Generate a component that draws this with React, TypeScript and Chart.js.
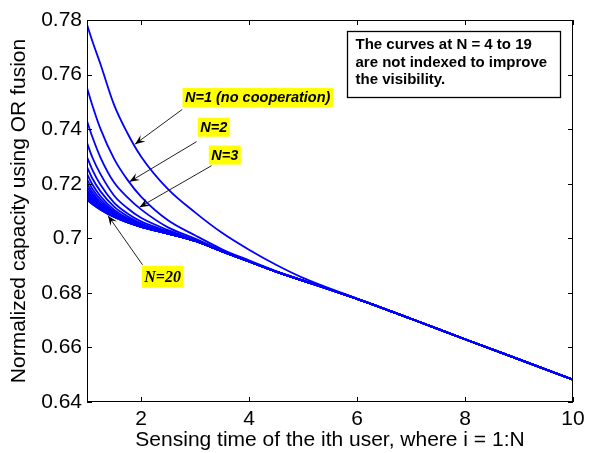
import React, { useEffect, useRef } from 'react';
import { Chart, registerables } from 'chart.js';

Chart.register(...registerables);

// ---- data ----
const xValues = [1, 1.1, 1.25, 1.5, 1.75, 2, 2.5, 3, 3.5, 4, 4.5, 5, 6, 7, 8, 9, 10];

const seriesN1 = [0.7783, 0.7722, 0.7638, 0.749, 0.7385, 0.73, 0.718, 0.7095, 0.702, 0.6958, 0.6903, 0.6855, 0.6779, 0.6705, 0.663, 0.6556, 0.6482];
const seriesN2 = [0.7552, 0.7487, 0.7401, 0.7292, 0.7214, 0.7153, 0.7066, 0.7011, 0.696, 0.6919, 0.688, 0.6846, 0.6778, 0.6705, 0.663, 0.6556, 0.6482];
const seriesN3 = [0.743, 0.7371, 0.7296, 0.7205, 0.715, 0.7106, 0.704, 0.6999, 0.6955, 0.6916, 0.6878, 0.6845, 0.6778, 0.6705, 0.663, 0.6556, 0.6482];
const seriesN4 = [0.735, 0.7296, 0.7235, 0.7157, 0.711, 0.7075, 0.703, 0.6994, 0.6953, 0.6915, 0.6878, 0.6845, 0.6778, 0.6705, 0.663, 0.6556, 0.6482];
const seriesN5 = [0.7298, 0.7251, 0.7196, 0.7131, 0.7091, 0.7062, 0.7025, 0.6992, 0.6952, 0.6915, 0.6878, 0.6845, 0.6778, 0.6705, 0.663, 0.6556, 0.6482];
const seriesN6 = [0.7262, 0.7219, 0.7172, 0.7116, 0.7081, 0.7055, 0.7022, 0.6991, 0.6952, 0.6915, 0.6878, 0.6845, 0.6778, 0.6705, 0.663, 0.6556, 0.6482];
const seriesN7 = [0.7236, 0.7197, 0.7154, 0.7105, 0.7074, 0.7052, 0.702, 0.6991, 0.6952, 0.6915, 0.6878, 0.6845, 0.6778, 0.6705, 0.663, 0.6556, 0.6482];
const seriesN8 = [0.7216, 0.7181, 0.7143, 0.7098, 0.707, 0.7049, 0.7019, 0.699, 0.6952, 0.6915, 0.6878, 0.6845, 0.6778, 0.6705, 0.663, 0.6556, 0.6482];
const seriesN9 = [0.72, 0.7169, 0.7134, 0.7094, 0.7067, 0.7047, 0.7019, 0.699, 0.6952, 0.6915, 0.6878, 0.6845, 0.6778, 0.6705, 0.663, 0.6556, 0.6482];
const seriesN10 = [0.7188, 0.716, 0.7128, 0.709, 0.7065, 0.7046, 0.7018, 0.699, 0.6952, 0.6915, 0.6878, 0.6845, 0.6778, 0.6705, 0.663, 0.6556, 0.6482];
const seriesN11 = [0.7178, 0.7152, 0.7123, 0.7087, 0.7063, 0.7045, 0.7018, 0.699, 0.6952, 0.6915, 0.6878, 0.6845, 0.6778, 0.6705, 0.663, 0.6556, 0.6482];
const seriesN12 = [0.717, 0.7146, 0.7119, 0.7085, 0.7062, 0.7044, 0.7018, 0.699, 0.6952, 0.6915, 0.6878, 0.6845, 0.6778, 0.6705, 0.663, 0.6556, 0.6482];
const seriesN13 = [0.7163, 0.7141, 0.7116, 0.7083, 0.7061, 0.7044, 0.7017, 0.699, 0.6952, 0.6915, 0.6878, 0.6845, 0.6778, 0.6705, 0.663, 0.6556, 0.6482];
const seriesN14 = [0.7158, 0.7137, 0.7113, 0.7082, 0.706, 0.7043, 0.7017, 0.699, 0.6952, 0.6915, 0.6878, 0.6845, 0.6778, 0.6705, 0.663, 0.6556, 0.6482];
const seriesN15 = [0.7153, 0.7134, 0.7111, 0.7081, 0.706, 0.7043, 0.7017, 0.699, 0.6952, 0.6915, 0.6878, 0.6845, 0.6778, 0.6705, 0.663, 0.6556, 0.6482];
const seriesN16 = [0.7149, 0.7131, 0.7109, 0.708, 0.7059, 0.7042, 0.7017, 0.699, 0.6952, 0.6915, 0.6878, 0.6845, 0.6778, 0.6705, 0.663, 0.6556, 0.6482];
const seriesN17 = [0.7146, 0.7129, 0.7108, 0.7079, 0.7059, 0.7042, 0.7017, 0.699, 0.6952, 0.6915, 0.6878, 0.6845, 0.6778, 0.6705, 0.663, 0.6556, 0.6482];
const seriesN18 = [0.7144, 0.7127, 0.7107, 0.7079, 0.7058, 0.7042, 0.7017, 0.699, 0.6952, 0.6915, 0.6878, 0.6845, 0.6778, 0.6705, 0.663, 0.6556, 0.6482];
const seriesN19 = [0.7142, 0.7126, 0.7105, 0.7078, 0.7058, 0.7042, 0.7017, 0.699, 0.6952, 0.6915, 0.6878, 0.6845, 0.6778, 0.6705, 0.663, 0.6556, 0.6482];
const seriesN20 = [0.7141, 0.7125, 0.7105, 0.7078, 0.7058, 0.7042, 0.7017, 0.699, 0.6952, 0.6915, 0.6878, 0.6845, 0.6778, 0.6705, 0.663, 0.6556, 0.6482];

const allSeries = [
  seriesN1, seriesN2, seriesN3, seriesN4, seriesN5, seriesN6, seriesN7, seriesN8, seriesN9, seriesN10,
  seriesN11, seriesN12, seriesN13, seriesN14, seriesN15, seriesN16, seriesN17, seriesN18, seriesN19, seriesN20,
];

const xTicks = [2, 4, 6, 8, 10];
const xTickLabels = ['2', '4', '6', '8', '10'];
const yTicks = [0.64, 0.66, 0.68, 0.7, 0.72, 0.74, 0.76, 0.78];
const yTickLabels = ['0.64', '0.66', '0.68', '0.7', '0.72', '0.74', '0.76', '0.78'];

const xTitle = 'Sensing time of the ith user, where i = 1:N';
const yTitle = 'Normalized capacity using OR fusion';

const noteLines = ['The curves at N = 4 to 19', 'are not indexed to improve', 'the visibility.'];
// note box corners in data units
const noteBox = { x0: 5.8056, y0: 0.7758, x1: 9.75, y1: 0.7519 };

// callout labels: text anchor (left, middle) and arrow (from -> to) in data units
const callouts = [
  { text: 'N=1 (no cooperation)', serif: false, x: 2.7685, y: 0.7516, fromX: 2.763, fromY: 0.7472, toX: 1.889, toY: 0.7345 },
  { text: 'N=2', serif: false, x: 3.0519, y: 0.7407, fromX: 3.0278, fromY: 0.7354, toX: 1.787, toY: 0.7207 },
  { text: 'N=3', serif: false, x: 3.2556, y: 0.7305, fromX: 3.3056, fromY: 0.7266, toX: 1.972, toY: 0.7114 },
  { text: 'N=20', serif: true, x: 2.0148, y: 0.6859, fromX: 2.0278, fromY: 0.6903, toX: 1.389, toY: 0.7083 },
];

const SANS = "'Liberation Sans', Arial, Helvetica, sans-serif";
const SERIF = "'Liberation Serif', 'Times New Roman', serif";
const AXIS_FONT_SIZE = 21;

const overlayPlugin = {
  id: 'overlay',
  afterDatasetsDraw(chart: any) {
    const { ctx, chartArea, scales } = chart;
    const xs = scales.x;
    const ys = scales.y;
    const { left, top, right, bottom } = chartArea;
    ctx.save();

    // axes box
    ctx.strokeStyle = '#000';
    ctx.lineWidth = 1;
    ctx.strokeRect(left + 0.5, top + 0.5, right - left - 1, bottom - top - 1);

    // inward ticks
    const tl = 5;
    ctx.beginPath();
    xTicks.forEach((v) => {
      const px = Math.round(xs.getPixelForValue(v)) + 0.5;
      ctx.moveTo(px, bottom);
      ctx.lineTo(px, bottom - tl);
      ctx.moveTo(px, top);
      ctx.lineTo(px, top + tl);
    });
    yTicks.forEach((v) => {
      const py = Math.round(ys.getPixelForValue(v)) + 0.5;
      ctx.moveTo(left, py);
      ctx.lineTo(left + tl, py);
      ctx.moveTo(right, py);
      ctx.lineTo(right - tl, py);
    });
    ctx.stroke();

    // note box
    const bx0 = Math.round(xs.getPixelForValue(noteBox.x0)) + 0.5;
    const by0 = Math.round(ys.getPixelForValue(noteBox.y0)) + 0.5;
    const bx1 = Math.round(xs.getPixelForValue(noteBox.x1)) + 0.5;
    const by1 = Math.round(ys.getPixelForValue(noteBox.y1)) + 0.5;
    ctx.fillStyle = '#fff';
    ctx.fillRect(bx0, by0, bx1 - bx0, by1 - by0);
    ctx.lineWidth = 1.3;
    ctx.strokeRect(bx0, by0, bx1 - bx0, by1 - by0);
    ctx.fillStyle = '#000';
    ctx.font = `bold 15px ${SANS}`;
    ctx.textBaseline = 'middle';
    ctx.textAlign = 'left';
    noteLines.forEach((line, i) => {
      ctx.fillText(line, bx0 + 8, by0 + 13.5 + i * 17.5);
    });

    // callouts
    callouts.forEach((c) => {
      const fx = xs.getPixelForValue(c.fromX);
      const fy = ys.getPixelForValue(c.fromY);
      const tx = xs.getPixelForValue(c.toX);
      const ty = ys.getPixelForValue(c.toY);
      ctx.strokeStyle = '#222';
      ctx.lineWidth = 1;
      ctx.beginPath();
      ctx.moveTo(fx, fy);
      ctx.lineTo(tx, ty);
      ctx.stroke();
      // arrowhead
      const ang = Math.atan2(ty - fy, tx - fx);
      const L = 10;
      const W = 4;
      const bxp = tx - L * Math.cos(ang);
      const byp = ty - L * Math.sin(ang);
      const nx = -Math.sin(ang);
      const ny = Math.cos(ang);
      const notchX = tx - L * 0.6 * Math.cos(ang);
      const notchY = ty - L * 0.6 * Math.sin(ang);
      ctx.fillStyle = '#000';
      ctx.beginPath();
      ctx.moveTo(tx, ty);
      ctx.lineTo(bxp + nx * W, byp + ny * W);
      ctx.lineTo(notchX, notchY);
      ctx.lineTo(bxp - nx * W, byp - ny * W);
      ctx.closePath();
      ctx.fill();

      // label
      const lx = xs.getPixelForValue(c.x);
      const ly = ys.getPixelForValue(c.y);
      ctx.font = c.serif ? `italic bold 16px ${SERIF}` : `italic bold 14.5px ${SANS}`;
      const w = ctx.measureText(c.text).width;
      const h = c.serif ? 22 : 19;
      ctx.fillStyle = '#ffff00';
      ctx.fillRect(lx, ly - h / 2, w + 5, h);
      ctx.fillStyle = '#000';
      ctx.textBaseline = 'middle';
      ctx.fillText(c.text, lx + 2.5, ly + 1);
    });

    ctx.restore();
  },
};

export default function App() {
  const canvasRef = useRef<HTMLCanvasElement | null>(null);

  useEffect(() => {
    const canvas = canvasRef.current;
    if (!canvas) return;
    const datasets = allSeries.map((s, i) => ({
      label: `N=${i + 1}`,
      data: s.map((v, j) => ({ x: xValues[j], y: v })),
      borderColor: '#0000ff',
      backgroundColor: '#0000ff',
      borderWidth: 1.8,
      pointRadius: 0,
      fill: false,
      cubicInterpolationMode: 'monotone' as const,
    }));

    const chart = new Chart(canvas, {
      type: 'line',
      data: { datasets },
      plugins: [overlayPlugin],
      options: {
        animation: false,
        responsive: false,
        devicePixelRatio: 1,
        layout: { padding: { top: 20, right: 17, left: 0, bottom: 0 } },
        plugins: { legend: { display: false }, tooltip: { enabled: false } },
        scales: {
          x: {
            type: 'linear',
            min: 1,
            max: 10,
            afterBuildTicks: (scale: any) => {
              scale.ticks = xTicks.map((v) => ({ value: v }));
            },
            afterFit: (scale: any) => {
              scale.height = 51;
            },
            grid: { display: false, drawTicks: false },
            border: { display: false },
            ticks: {
              padding: 5,
              color: '#000',
              font: { family: SANS, size: AXIS_FONT_SIZE },
              maxRotation: 0,
              autoSkip: false,
              callback: (v: any) => {
                const idx = xTicks.indexOf(Number(v));
                return idx >= 0 ? xTickLabels[idx] : '';
              },
            },
            title: {
              display: true,
              text: xTitle,
              color: '#000',
              font: { family: SANS, size: AXIS_FONT_SIZE },
              padding: { top: 0, bottom: 0 },
            },
          },
          y: {
            type: 'linear',
            min: 0.64,
            max: 0.78,
            afterBuildTicks: (scale: any) => {
              scale.ticks = yTicks.map((v) => ({ value: v }));
            },
            afterFit: (scale: any) => {
              scale.width = 87;
            },
            grid: { display: false, drawTicks: false },
            border: { display: false },
            ticks: {
              padding: 5,
              color: '#000',
              font: { family: SANS, size: AXIS_FONT_SIZE },
              autoSkip: false,
              callback: (v: any) => {
                const idx = yTicks.findIndex((t) => Math.abs(t - Number(v)) < 1e-9);
                return idx >= 0 ? yTickLabels[idx] : '';
              },
            },
            title: {
              display: true,
              text: yTitle,
              color: '#000',
              font: { family: SANS, size: AXIS_FONT_SIZE },
              padding: { top: 7, bottom: 0 },
            },
          },
        },
      },
    });
    return () => chart.destroy();
  }, []);

  return (
    <div style={{ position: 'fixed', left: 0, top: 0, width: 590, height: 453, background: '#fff' }}>
      <canvas ref={canvasRef} width={590} height={453} style={{ width: 590, height: 453, display: 'block' }} />
    </div>
  );
}
